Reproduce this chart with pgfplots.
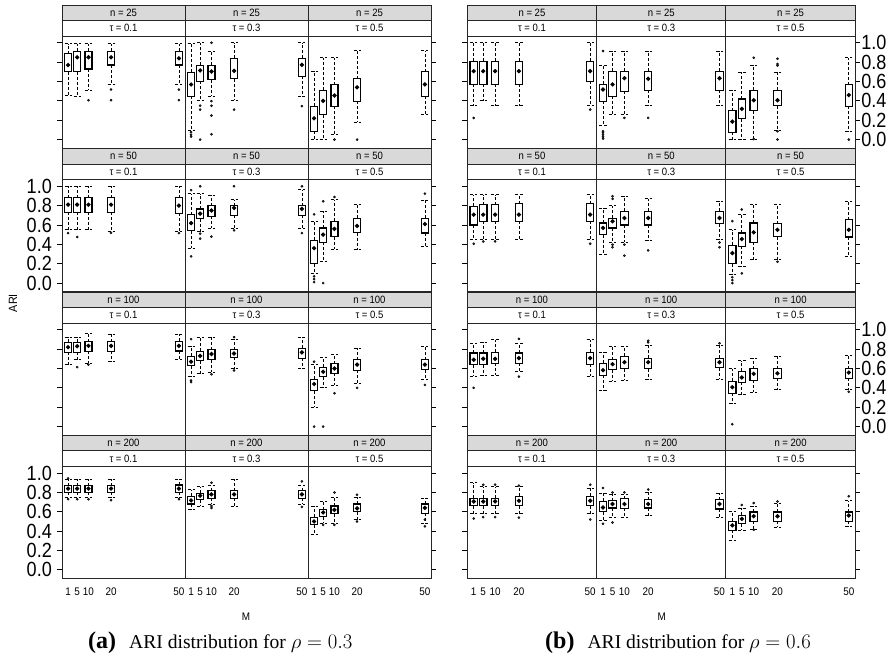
\documentclass[border=0pt]{standalone}
\usepackage{pgfplots}
\pgfplotsset{compat=1.18}
\usepgfplotslibrary{statistics}
\usepackage{fontspec}
\setmainfont{Liberation Serif}
\newfontfamily\narrowsans[FakeStretch=0.9]{Liberation Sans}
\newfontfamily\ticksans[FakeStretch=0.88]{Liberation Sans}
\newfontfamily\stripsans[FakeStretch=0.9]{Liberation Sans}

\definecolor{stripgray}{RGB}{217,217,217}

% panel strips: x, top of panel, width, n, tau
\newcommand{\strips}[5]{%
  \begin{scope}[shift={(#1pt,-#2pt)}]
    \draw[line width=0.9pt, black!85, fill=stripgray] (0pt,15.5pt) rectangle (#3pt,31pt);
    \draw[line width=0.9pt, black!85, fill=white] (0pt,0pt) rectangle (#3pt,15.5pt);
    \node[font=\fontsize{10.6}{11}\stripsans, inner sep=0pt] at (#3pt/2,23.25pt) {n = #4};
    \node[font=\fontsize{10.6}{11}\stripsans, inner sep=0pt] at (#3pt/2,7.75pt) {τ = #5};
  \end{scope}}

% one box: M, lower whisker, lower quartile, median, upper quartile, upper whisker
\newcommand{\B}[6]{\addplot[black, line width=1.2pt, boxplot prepared={draw direction=y, draw position=#1,
  lower whisker=#2, lower quartile=#3, median=#4, upper quartile=#5, upper whisker=#6}] coordinates {};}

\pgfplotsset{
  panel/.style={
    scale only axis, height=112.3pt, anchor=north west,
    xmin=-1.7, xmax=52.7, ymin=-0.09, ymax=1.07,
    xtick={1,5,10,20,50}, xticklabels={},
    ytick={0,0.2,0.4,0.6,0.8,1.0}, yticklabels={},
    tick align=outside, major tick length=5pt,
    xtick style={draw=none},
    ytick style={line width=0.8pt, black},
    axis line style={line width=0.9pt, black!85},
    xticklabel style={font=\fontsize{11}{11}\narrowsans, inner sep=0pt, yshift=-4pt},
    yticklabel style={font=\fontsize{20.5}{20.5}\ticksans, inner sep=0pt},
    boxplot/draw direction=y,
    boxplot/box extend=3.1, boxplot/whisker extend=3.1,
    boxplot/every whisker/.style={line width=0.75pt, dash pattern=on 3pt off 2pt},
    boxplot/draw/median/.code={\fill[black] (boxplot box cs:\pgfplotsboxplotvalue{median},0.5) circle[radius=1.5pt];},
  },
  lefty/.style={ytick pos=left},
  midy/.style={ytick=\empty},
  righty/.style={ytick pos=right},
  ylabL/.style={yticklabels={0.0,0.2,0.4,0.6,0.8,1.0}, yticklabel style={xshift=-5pt}},
  ylabR/.style={yticklabels={0.0,0.2,0.4,0.6,0.8,1.0}, yticklabel style={xshift=1pt}},
  bottomx/.style={xticklabels={1,5,10,20,50}},
  outl/.style={only marks, mark=*, mark size=1.1pt, black, mark options={fill=black!80}},
}

\begin{document}
\begin{tikzpicture}
\path[use as bounding box] (0,0) rectangle (896pt,-658pt);

% ===================== (a) rho = 0.3 =====================
% ---- n = 25
\strips{62}{36}{123}{25}{0.1}
\begin{axis}[panel, at={(62pt,-36pt)}, width=123pt, lefty]
\B{1}{0.455}{0.70}{0.77}{0.886}{0.99}
\B{5}{0.448}{0.703}{0.85}{0.914}{0.99}
\B{10}{0.51}{0.73}{0.85}{0.914}{0.99}
\B{20}{0.57}{0.77}{0.85}{0.914}{0.99}
\B{50}{0.57}{0.77}{0.84}{0.914}{0.99}
\addplot[outl] coordinates {(10,0.407)(20,0.517)(20,0.407)(50,0.517)(50,0.407)};
\end{axis}
\strips{185}{36}{123}{25}{0.3}
\begin{axis}[panel, at={(185pt,-36pt)}, width=123pt, midy]
\B{1}{0.10}{0.448}{0.569}{0.697}{0.99}
\B{5}{0.40}{0.60}{0.714}{0.766}{1.0}
\B{10}{0.448}{0.62}{0.703}{0.766}{0.914}
\B{20}{0.41}{0.628}{0.71}{0.841}{1.0}
\B{50}{0.448}{0.655}{0.772}{0.841}{1.0}
\addplot[outl] coordinates {(1,0.076)(1,0.05)(1,0.03)(5,0.35)(5,0.31)(5,0.0)(10,1.0)(10,0.397)(10,0.35)(10,0.248)(10,0.055)(20,0.31)(50,0.345)};
\end{axis}
\strips{308}{36}{123}{25}{0.5}
\begin{axis}[panel, at={(308pt,-36pt)}, width=123pt, righty]
\B{1}{0.0}{0.086}{0.22}{0.345}{0.707}
\B{5}{0.0}{0.255}{0.40}{0.51}{0.845}
\B{10}{0.05}{0.345}{0.455}{0.566}{0.845}
\B{20}{0.18}{0.397}{0.54}{0.628}{0.92}
\B{50}{0.26}{0.448}{0.57}{0.70}{0.92}
\addplot[outl] coordinates {(10,0.0)(20,0.0)};
\end{axis}
% ---- n = 50
\strips{62}{179.5}{123}{50}{0.1}
\begin{axis}[panel, at={(62pt,-179.5pt)}, width=123pt, lefty, ylabL]
\B{1}{0.55}{0.73}{0.81}{0.88}{1.0}
\B{5}{0.55}{0.73}{0.81}{0.88}{1.0}
\B{10}{0.55}{0.73}{0.81}{0.88}{1.0}
\B{20}{0.53}{0.73}{0.81}{0.88}{1.0}
\B{50}{0.53}{0.72}{0.80}{0.88}{1.0}
\addplot[outl] coordinates {(1,0.517)(5,0.476)(20,0.52)(50,0.517)};
\end{axis}
\strips{185}{179.5}{123}{50}{0.3}
\begin{axis}[panel, at={(185pt,-179.5pt)}, width=123pt, midy]
\B{1}{0.36}{0.54}{0.62}{0.707}{0.924}
\B{5}{0.53}{0.665}{0.717}{0.766}{0.924}
\B{10}{0.57}{0.69}{0.75}{0.80}{0.91}
\B{20}{0.57}{0.70}{0.776}{0.80}{0.86}
\B{50}{0.57}{0.70}{0.766}{0.80}{0.965}
\addplot[outl] coordinates {(1,0.96)(1,0.276)(5,1.0)(5,0.51)(5,0.46)(10,0.48)(20,1.0)(20,0.545)(50,1.0)(50,0.517)};
\end{axis}
\strips{308}{179.5}{123}{50}{0.5}
\begin{axis}[panel, at={(308pt,-179.5pt)}, width=123pt, righty]
\B{1}{0.10}{0.20}{0.36}{0.44}{0.64}
\B{5}{0.22}{0.42}{0.50}{0.57}{0.74}
\B{10}{0.35}{0.48}{0.56}{0.64}{0.86}
\B{20}{0.345}{0.52}{0.59}{0.67}{0.81}
\B{50}{0.38}{0.517}{0.61}{0.67}{0.855}
\addplot[outl] coordinates {(1,0.71)(1,0.07)(1,0.04)(1,0.01)(5,0.845)(5,0.0)(10,0.89)(50,0.924)};
\end{axis}
% ---- n = 100
\strips{62}{323}{123}{100}{0.1}
\begin{axis}[panel, at={(62pt,-323pt)}, width=123pt, lefty]
\B{1}{0.64}{0.766}{0.82}{0.87}{0.924}
\B{5}{0.69}{0.766}{0.83}{0.87}{0.924}
\B{10}{0.655}{0.776}{0.834}{0.876}{0.96}
\B{20}{0.67}{0.776}{0.834}{0.876}{0.955}
\B{50}{0.69}{0.78}{0.834}{0.88}{0.955}
\addplot[outl] coordinates {(5,0.614)(10,0.64)};
\end{axis}
\strips{185}{323}{123}{100}{0.3}
\begin{axis}[panel, at={(185pt,-323pt)}, width=123pt, midy]
\B{1}{0.517}{0.628}{0.67}{0.724}{0.83}
\B{5}{0.545}{0.68}{0.73}{0.776}{0.924}
\B{10}{0.56}{0.69}{0.75}{0.793}{0.924}
\B{20}{0.60}{0.717}{0.755}{0.793}{0.90}
\B{50}{0.60}{0.707}{0.766}{0.81}{0.924}
\addplot[outl] coordinates {(1,0.903)(1,0.476)(1,0.46)(10,0.54)(20,0.924)(20,0.58)};
\end{axis}
\strips{308}{323}{123}{100}{0.5}
\begin{axis}[panel, at={(308pt,-323pt)}, width=123pt, righty]
\B{1}{0.20}{0.37}{0.44}{0.49}{0.64}
\B{5}{0.40}{0.517}{0.566}{0.614}{0.717}
\B{10}{0.43}{0.55}{0.60}{0.65}{0.75}
\B{20}{0.45}{0.58}{0.64}{0.69}{0.81}
\B{50}{0.49}{0.586}{0.64}{0.69}{0.83}
\addplot[outl] coordinates {(1,0.67)(1,0.0)(5,0.0)(10,0.345)(20,0.40)(50,0.43)};
\end{axis}
% ---- n = 200
\strips{62}{466.3}{123}{200}{0.1}
\begin{axis}[panel, at={(62pt,-466.3pt)}, width=123pt, lefty, ylabL, bottomx]
\B{1}{0.75}{0.80}{0.84}{0.87}{0.94}
\B{5}{0.75}{0.80}{0.84}{0.87}{0.94}
\B{10}{0.75}{0.80}{0.84}{0.87}{0.94}
\B{20}{0.745}{0.80}{0.84}{0.87}{0.94}
\B{50}{0.745}{0.80}{0.84}{0.876}{0.94}
\addplot[outl] coordinates {(1,0.945)(1,0.73)(5,0.73)(10,0.73)(20,0.72)(50,0.73)};
\end{axis}
\strips{185}{466.3}{123}{200}{0.3}
\begin{axis}[panel, at={(185pt,-466.3pt)}, width=123pt, midy, bottomx]
\B{1}{0.62}{0.68}{0.717}{0.76}{0.83}
\B{5}{0.655}{0.724}{0.766}{0.79}{0.86}
\B{10}{0.68}{0.74}{0.78}{0.82}{0.87}
\B{20}{0.655}{0.74}{0.78}{0.82}{0.94}
\B{50}{0.68}{0.74}{0.78}{0.82}{0.87}
\addplot[outl] coordinates {(10,0.9)(10,0.66)(10,0.64)(50,0.914)(50,0.65)};
\end{axis}
\strips{308}{466.3}{123}{200}{0.5}
\begin{axis}[panel, at={(308pt,-466.3pt)}, width=123pt, righty, bottomx]
\B{1}{0.372}{0.466}{0.50}{0.545}{0.66}
\B{5}{0.48}{0.55}{0.593}{0.62}{0.71}
\B{10}{0.48}{0.58}{0.62}{0.66}{0.75}
\B{20}{0.52}{0.60}{0.635}{0.68}{0.75}
\B{50}{0.48}{0.586}{0.64}{0.68}{0.74}
\addplot[outl] coordinates {(5,0.465)(10,0.8)(10,0.465)(20,0.776)(20,0.50)(50,0.45)(50,0.52)};
\end{axis}

% ===================== (b) rho = 0.6 =====================
% ---- n = 25
\strips{467.3}{36}{129.3}{25}{0.1}
\begin{axis}[panel, at={(467.3pt,-36pt)}, width=129.3pt, lefty]
\B{1}{0.35}{0.57}{0.707}{0.81}{1.0}
\B{5}{0.40}{0.57}{0.707}{0.81}{1.0}
\B{10}{0.35}{0.57}{0.707}{0.81}{1.0}
\B{20}{0.35}{0.57}{0.707}{0.81}{1.0}
\B{50}{0.35}{0.60}{0.707}{0.81}{1.0}
\addplot[outl] coordinates {(1,0.224)(50,0.31)};
\end{axis}
\strips{596.6}{36}{129.3}{25}{0.3}
\begin{axis}[panel, at={(596.6pt,-36pt)}, width=129.3pt, midy]
\B{1}{0.145}{0.397}{0.517}{0.57}{0.77}
\B{5}{0.26}{0.448}{0.57}{0.707}{0.914}
\B{10}{0.26}{0.50}{0.634}{0.707}{0.914}
\B{20}{0.35}{0.51}{0.628}{0.707}{0.914}
\B{50}{0.35}{0.51}{0.634}{0.707}{0.914}
\addplot[outl] coordinates {(1,0.914)(1,0.086)(1,0.07)(1,0.05)(1,0.03)(1,0.01)(10,0.224)(20,0.224)};
\end{axis}
\strips{725.9}{36}{129.3}{25}{0.5}
\begin{axis}[panel, at={(725.9pt,-36pt)}, width=129.3pt, righty, ylabR]
\B{1}{0.0}{0.076}{0.186}{0.30}{0.51}
\B{5}{0.0}{0.214}{0.317}{0.42}{0.697}
\B{10}{0.0}{0.30}{0.407}{0.51}{0.77}
\B{20}{0.10}{0.35}{0.407}{0.51}{0.697}
\B{50}{0.086}{0.345}{0.46}{0.566}{0.845}
\addplot[outl] coordinates {(10,0.845)(10,0.005)(20,0.834)(20,0.78)(20,0.766)(20,0.086)(20,0.0)(50,0.0)};
\end{axis}
% ---- n = 50
\strips{467.3}{179.5}{129.3}{50}{0.1}
\begin{axis}[panel, at={(467.3pt,-179.5pt)}, width=129.3pt, lefty]
\B{1}{0.455}{0.60}{0.707}{0.793}{0.914}
\B{5}{0.455}{0.638}{0.707}{0.81}{0.914}
\B{10}{0.455}{0.638}{0.707}{0.81}{0.914}
\B{20}{0.455}{0.638}{0.707}{0.82}{0.914}
\B{50}{0.455}{0.638}{0.707}{0.82}{0.914}
\addplot[outl] coordinates {(1,0.407)(5,0.43)(10,0.43)(50,0.407)};
\end{axis}
\strips{596.6}{179.5}{129.3}{50}{0.3}
\begin{axis}[panel, at={(596.6pt,-179.5pt)}, width=129.3pt, midy]
\B{1}{0.30}{0.50}{0.57}{0.62}{0.776}
\B{5}{0.42}{0.57}{0.638}{0.67}{0.80}
\B{10}{0.42}{0.60}{0.672}{0.74}{0.897}
\B{20}{0.44}{0.60}{0.672}{0.74}{0.87}
\B{50}{0.455}{0.614}{0.672}{0.74}{0.845}
\addplot[outl] coordinates {(5,0.897)(5,0.87)(5,0.397)(5,0.37)(10,0.397)(10,0.283)(20,0.338)(50,0.42)(50,0.37)};
\end{axis}
\strips{725.9}{179.5}{129.3}{50}{0.5}
\begin{axis}[panel, at={(725.9pt,-179.5pt)}, width=129.3pt, righty]
\B{1}{0.09}{0.20}{0.31}{0.39}{0.55}
\B{5}{0.17}{0.38}{0.455}{0.517}{0.707}
\B{10}{0.24}{0.42}{0.524}{0.62}{0.81}
\B{20}{0.24}{0.48}{0.55}{0.614}{0.81}
\B{50}{0.276}{0.476}{0.55}{0.655}{0.845}
\addplot[outl] coordinates {(1,0.64)(1,0.06)(1,0.03)(1,0.0)(5,0.76)(5,0.10)(20,0.22)};
\end{axis}
% ---- n = 100
\strips{467.3}{323}{129.3}{100}{0.1}
\begin{axis}[panel, at={(467.3pt,-323pt)}, width=129.3pt, lefty]
\B{1}{0.52}{0.64}{0.69}{0.76}{0.86}
\B{5}{0.53}{0.64}{0.70}{0.76}{0.87}
\B{10}{0.53}{0.655}{0.70}{0.766}{0.896}
\B{20}{0.57}{0.655}{0.707}{0.76}{0.86}
\B{50}{0.52}{0.645}{0.707}{0.766}{0.896}
\addplot[outl] coordinates {(1,0.40)(20,0.907)(20,0.517)};
\end{axis}
\strips{596.6}{323}{129.3}{100}{0.3}
\begin{axis}[panel, at={(596.6pt,-323pt)}, width=129.3pt, midy]
\B{1}{0.37}{0.528}{0.583}{0.655}{0.766}
\B{5}{0.47}{0.586}{0.645}{0.69}{0.827}
\B{10}{0.48}{0.60}{0.665}{0.724}{0.827}
\B{20}{0.49}{0.60}{0.665}{0.707}{0.84}
\B{50}{0.49}{0.61}{0.665}{0.707}{0.84}
\addplot[outl] coordinates {(20,0.886)(20,0.87)(50,0.86)};
\end{axis}
\strips{725.9}{323}{129.3}{100}{0.5}
\begin{axis}[panel, at={(725.9pt,-323pt)}, width=129.3pt, righty, ylabR]
\B{1}{0.24}{0.345}{0.407}{0.466}{0.60}
\B{5}{0.328}{0.458}{0.507}{0.57}{0.68}
\B{10}{0.355}{0.48}{0.545}{0.60}{0.707}
\B{20}{0.38}{0.50}{0.55}{0.60}{0.724}
\B{50}{0.38}{0.50}{0.558}{0.60}{0.74}
\addplot[outl] coordinates {(1,0.024)(50,0.36)};
\end{axis}
% ---- n = 200
\strips{467.3}{466.3}{129.3}{200}{0.1}
\begin{axis}[panel, at={(467.3pt,-466.3pt)}, width=129.3pt, lefty, bottomx]
\B{1}{0.58}{0.665}{0.707}{0.74}{0.90}
\B{5}{0.58}{0.665}{0.707}{0.74}{0.86}
\B{10}{0.58}{0.665}{0.707}{0.74}{0.86}
\B{20}{0.58}{0.665}{0.714}{0.76}{0.86}
\B{50}{0.58}{0.665}{0.714}{0.76}{0.845}
\addplot[outl] coordinates {(1,0.53)(5,0.88)(5,0.545)(10,0.88)(10,0.545)(20,0.87)(20,0.54)(50,0.88)(50,0.52)};
\end{axis}
\strips{596.6}{466.3}{129.3}{200}{0.3}
\begin{axis}[panel, at={(596.6pt,-466.3pt)}, width=129.3pt, midy, bottomx]
\B{1}{0.51}{0.60}{0.645}{0.707}{0.793}
\B{5}{0.545}{0.64}{0.68}{0.714}{0.78}
\B{10}{0.545}{0.638}{0.68}{0.734}{0.78}
\B{20}{0.56}{0.64}{0.68}{0.724}{0.80}
\B{50}{0.545}{0.63}{0.68}{0.724}{0.793}
\addplot[outl] coordinates {(1,0.845)(1,0.476)(5,0.80)(5,0.49)(10,0.80)(20,0.83)};
\end{axis}
\strips{725.9}{466.3}{129.3}{200}{0.5}
\begin{axis}[panel, at={(725.9pt,-466.3pt)}, width=129.3pt, righty, bottomx]
\B{1}{0.31}{0.407}{0.46}{0.503}{0.60}
\B{5}{0.407}{0.476}{0.527}{0.562}{0.64}
\B{10}{0.414}{0.503}{0.555}{0.597}{0.655}
\B{20}{0.44}{0.503}{0.555}{0.597}{0.69}
\B{50}{0.448}{0.503}{0.562}{0.597}{0.714}
\addplot[outl] coordinates {(5,0.67)(10,0.69)(10,0.414)(20,0.707)(50,0.76)};
\end{axis}

% axis titles and captions
\node[rotate=90, font=\fontsize{12}{12}\narrowsans] at (13pt,-303pt) {ARI};
\node[font=\fontsize{11}{11}\narrowsans] at (246pt,-616.7pt) {M};
\node[font=\fontsize{11}{11}\narrowsans] at (661.7pt,-616.7pt) {M};
\node[anchor=base west, inner sep=0pt, font=\fontsize{19.6}{22}\selectfont] at (88pt,-648.3pt)
  {{\fontsize{24}{24}\selectfont\bfseries (a)}\hspace{13pt}ARI distribution for $\rho = 0.3$};
\node[anchor=base west, inner sep=0pt, font=\fontsize{19.6}{22}\selectfont] at (545pt,-648.3pt)
  {{\fontsize{24}{24}\selectfont\bfseries (b)}\hspace{13pt}ARI distribution for $\rho = 0.6$};
\end{tikzpicture}
\end{document}
